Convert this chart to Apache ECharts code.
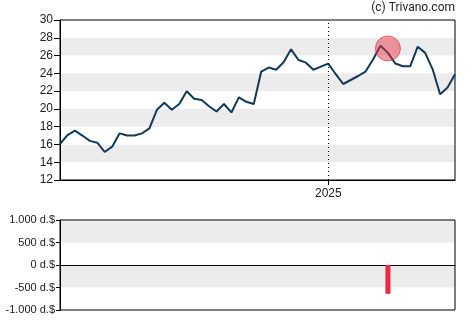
<!DOCTYPE html>
<html>
<head>
<meta charset="utf-8">
<script src="https://cdn.jsdelivr.net/npm/echarts@6/dist/echarts.min.js"></script>
<style>
  html, body { margin: 0; padding: 0; background: #fff; }
  #chart { width: 470px; height: 325px; }
</style>
</head>
<body>
<div id="chart"></div>
<script>
// Weekly closing prices (about one year)
const prices = [
  16.05, 17.06, 17.55, 17.0, 16.4, 16.2, 15.15, 15.75, 17.25, 17.0,
  17.0, 17.25, 17.8, 19.9, 20.7, 19.9, 20.55, 21.98, 21.15, 21.0,
  20.3, 19.7, 20.55, 19.6, 21.3, 20.8, 20.55, 24.2, 24.65, 24.4,
  25.25, 26.7, 25.5, 25.2, 24.4, 24.75, 25.1, 23.9, 22.8, 23.25,
  23.7, 24.2, 25.55, 27.1, 26.3, 25.1, 24.8, 24.8, 27.0, 26.3,
  24.45, 21.65, 22.4, 23.9
];
// Week index where the new year begins
const yearStartIndex = 36;
const yearLabel = '2025';
// Insider transaction (week index, price level, net value in thousand $)
const tradeIndex = 44;
const tradePrice = 26.8;
const tradeValue = -640;

const weeks = prices.map((_, i) => i);
const tradeBars = prices.map((_, i) => (i === tradeIndex ? tradeValue : null));
const tradeMarks = prices.map((_, i) => (i === tradeIndex ? tradePrice : null));

const labelFont = '"Liberation Sans", Arial, sans-serif';
const creditFont = 'Roboto, "Liberation Sans", Arial, sans-serif';

function fmtDollar(v) {
  const s = Math.abs(v).toString().replace(/\B(?=(\d{3})+(?!\d))/g, '.');
  return (v < 0 ? '-' : '') + s + ' d.$';
}

const chart = echarts.init(document.getElementById('chart'), null, { renderer: 'canvas' });
chart.setOption({
  animation: false,
  backgroundColor: '#fff',
  textStyle: { fontFamily: labelFont },
  graphic: [{
    type: 'text',
    right: 15,
    top: 2,
    style: { text: '(c) Trivano.com', fontSize: 12, fill: '#222', fontFamily: creditFont }
  }],
  grid: [
    { left: 60, right: 15, top: 20, height: 160, show: true, borderColor: '#000', borderWidth: 1, backgroundColor: 'transparent', z: 3 },
    { left: 60, right: 15, top: 220, height: 90, show: true, borderColor: '#000', borderWidth: 1, backgroundColor: 'transparent', z: 3 }
  ],
  xAxis: [
    {
      type: 'category', gridIndex: 0, data: weeks, boundaryGap: false,
      axisLine: { lineStyle: { color: '#000', width: 1 } },
      axisTick: { length: 5, lineStyle: { color: '#000' }, interval: (i) => i === yearStartIndex },
      axisLabel: {
        interval: (i) => i === yearStartIndex,
        formatter: () => yearLabel,
        color: '#222', fontSize: 12, margin: 8, fontFamily: labelFont
      },
      splitLine: { show: false }
    },
    {
      type: 'category', gridIndex: 1, data: weeks, boundaryGap: false,
      axisLine: { onZero: true, lineStyle: { color: '#000', width: 1 } },
      axisTick: { show: false },
      axisLabel: { show: false },
      splitLine: { show: false }
    }
  ],
  yAxis: [
    {
      type: 'value', gridIndex: 0, min: 12, max: 30, interval: 2,
      axisLine: { show: true, lineStyle: { color: '#000' } },
      axisTick: { show: true, length: 6, lineStyle: { color: '#000' } },
      axisLabel: { color: '#222', fontSize: 12, margin: 7, fontFamily: labelFont },
      splitLine: { show: false },
      splitArea: { show: true, areaStyle: { color: ['#ffffff', '#ececec'] } }
    },
    {
      type: 'value', gridIndex: 1, min: -1000, max: 1000, interval: 500,
      axisLine: { show: true, lineStyle: { color: '#000' } },
      axisTick: { show: true, length: 4, lineStyle: { color: '#000' } },
      axisLabel: { color: '#222', fontSize: 11, margin: 5, formatter: fmtDollar, fontFamily: labelFont },
      splitLine: { show: false },
      splitArea: { show: true, areaStyle: { color: ['#ffffff', '#ececec'] } }
    }
  ],
  series: [
    {
      type: 'line', xAxisIndex: 0, yAxisIndex: 0, data: prices,
      symbol: 'none', lineStyle: { color: '#123a58', width: 2 }, z: 4,
      markLine: {
        silent: true, symbol: 'none', label: { show: false },
        lineStyle: { color: '#000', type: [1, 3], width: 1 },
        data: [{ xAxis: yearStartIndex }]
      }
    },
    {
      type: 'scatter', xAxisIndex: 0, yAxisIndex: 0, data: tradeMarks,
      symbolSize: 25, z: 5,
      itemStyle: { color: 'rgba(232, 48, 68, 0.6)', borderColor: 'rgba(220, 40, 60, 0.8)', borderWidth: 1 }
    },
    {
      type: 'bar', xAxisIndex: 1, yAxisIndex: 1, data: tradeBars,
      barWidth: 5, itemStyle: { color: '#ee2a3e' }, z: 4
    }
  ]
});
</script>
</body>
</html>
